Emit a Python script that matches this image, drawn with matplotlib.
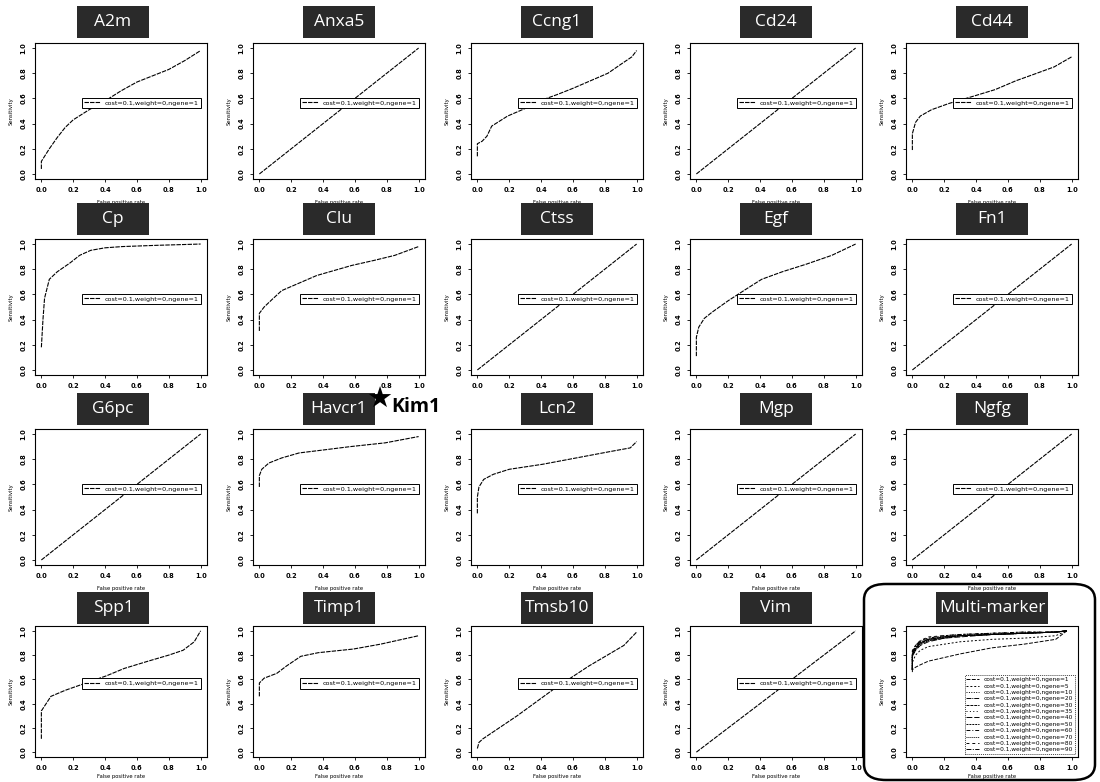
import matplotlib.pyplot as plt
from matplotlib.patches import Rectangle, FancyBboxPatch

# gene panels, row by row
genes = ["A2m", "Anxa5", "Ccng1", "Cd24", "Cd44",
         "Cp", "Clu", "Ctss", "Egf", "Fn1",
         "G6pc", "Havcr1", "Lcn2", "Mgp", "Ngfg",
         "Spp1", "Timp1", "Tmsb10", "Vim"]

diag = ([0.0, 1.0], [0.0, 1.0])

roc = {
    "A2m": ([0.0, 0.0, 0.05, 0.1, 0.15, 0.2, 0.3, 0.4, 0.5, 0.6, 0.7, 0.8, 0.9, 1.0],
            [0.04, 0.1, 0.2, 0.29, 0.37, 0.43, 0.51, 0.58, 0.66, 0.73, 0.78, 0.83, 0.9, 0.98]),
    "Anxa5": diag,
    "Ccng1": ([0.0, 0.0, 0.03, 0.06, 0.09, 0.19, 0.3, 0.39, 0.5, 0.6, 0.71, 0.82, 0.9, 0.97, 1.0],
              [0.14, 0.24, 0.26, 0.3, 0.38, 0.46, 0.52, 0.58, 0.63, 0.68, 0.74, 0.8, 0.87, 0.93, 0.98]),
    "Cd24": diag,
    "Cd44": ([0.0, 0.0, 0.02, 0.05, 0.12, 0.23, 0.39, 0.52, 0.65, 0.76, 0.89, 1.0],
             [0.19, 0.32, 0.41, 0.46, 0.51, 0.56, 0.62, 0.67, 0.74, 0.79, 0.85, 0.93]),
    "Cp": ([0.0, 0.01, 0.02, 0.05, 0.1, 0.18, 0.24, 0.31, 0.4, 0.51, 0.73, 1.0],
           [0.18, 0.4, 0.57, 0.72, 0.78, 0.85, 0.91, 0.95, 0.97, 0.98, 0.99, 1.0]),
    "Clu": ([0.0, 0.0, 0.03, 0.08, 0.14, 0.25, 0.36, 0.47, 0.58, 0.72, 0.85, 1.0],
            [0.31, 0.45, 0.5, 0.56, 0.63, 0.69, 0.75, 0.79, 0.83, 0.87, 0.91, 0.98]),
    "Ctss": diag,
    "Egf": ([0.0, 0.0, 0.015, 0.05, 0.1, 0.2, 0.31, 0.41, 0.54, 0.69, 0.85, 1.0],
            [0.11, 0.26, 0.34, 0.41, 0.46, 0.55, 0.64, 0.72, 0.78, 0.84, 0.91, 1.0]),
    "Fn1": diag,
    "G6pc": diag,
    "Havcr1": ([0.0, 0.0, 0.015, 0.06, 0.14, 0.25, 0.38, 0.57, 0.79, 1.0],
               [0.58, 0.67, 0.72, 0.77, 0.81, 0.85, 0.87, 0.9, 0.93, 0.98]),
    "Lcn2": ([0.0, 0.0, 0.01, 0.04, 0.1, 0.2, 0.41, 0.62, 0.83, 0.96, 1.0],
             [0.37, 0.5, 0.58, 0.64, 0.68, 0.72, 0.76, 0.81, 0.86, 0.89, 0.94]),
    "Mgp": diag,
    "Ngfg": diag,
    "Spp1": ([0.0, 0.0, 0.03, 0.06, 0.15, 0.28, 0.41, 0.52, 0.67, 0.8, 0.89, 0.96, 1.0],
             [0.11, 0.34, 0.4, 0.46, 0.51, 0.57, 0.63, 0.69, 0.75, 0.8, 0.84, 0.91, 1.0]),
    "Timp1": ([0.0, 0.0, 0.03, 0.11, 0.17, 0.26, 0.37, 0.59, 0.76, 1.0],
              [0.46, 0.57, 0.61, 0.65, 0.71, 0.79, 0.82, 0.85, 0.89, 0.96]),
    "Tmsb10": ([0.0, 0.01, 0.035, 0.25, 0.48, 0.7, 0.92, 1.0],
               [0.03, 0.08, 0.11, 0.3, 0.52, 0.71, 0.88, 0.99]),
    "Vim": diag,
}

# multi-marker panel
mm_ngene = [1, 5, 10, 20, 30, 35, 40, 50, 60, 70, 80, 90]
mm_fpr = [0.0, 0.0, 0.02, 0.05, 0.1, 0.2, 0.3, 0.5, 0.7, 0.9, 0.97]
mm_tpr = [
    [0.66, 0.68, 0.7, 0.72, 0.75, 0.78, 0.81, 0.86, 0.89, 0.93, 1.0],
    [0.68, 0.74, 0.8, 0.84, 0.87, 0.89, 0.91, 0.93, 0.94, 0.96, 1.0],
    [0.68, 0.78, 0.84, 0.89, 0.92, 0.95, 0.96, 0.97, 0.98, 0.99, 1.0],
    [0.68, 0.8, 0.86, 0.9, 0.93, 0.95, 0.96, 0.97, 0.98, 0.99, 1.0],
    [0.68, 0.8, 0.85, 0.9, 0.92, 0.94, 0.96, 0.97, 0.98, 0.99, 1.0],
    [0.68, 0.82, 0.87, 0.91, 0.94, 0.96, 0.97, 0.98, 0.98, 0.99, 1.0],
    [0.68, 0.79, 0.84, 0.88, 0.91, 0.94, 0.95, 0.97, 0.98, 0.99, 1.0],
    [0.68, 0.81, 0.86, 0.9, 0.93, 0.95, 0.96, 0.97, 0.98, 0.99, 1.0],
    [0.68, 0.83, 0.88, 0.92, 0.94, 0.96, 0.97, 0.98, 0.99, 0.99, 1.0],
    [0.68, 0.8, 0.85, 0.89, 0.92, 0.94, 0.96, 0.97, 0.98, 0.99, 1.0],
    [0.68, 0.84, 0.88, 0.92, 0.95, 0.96, 0.97, 0.98, 0.99, 0.99, 1.0],
    [0.68, 0.82, 0.87, 0.91, 0.93, 0.95, 0.96, 0.97, 0.98, 0.99, 1.0],
]
mm_dash = [(4, 1.5), (2, 2), (1, 1.5), (5, 1, 1, 1), (3, 1), (1, 2.5),
           (6, 2), (2, 1), (4, 2, 1, 2), (1, 1), (3, 3), (5, 1.5, 1, 1.5)]

W, H = 1100, 782
col_left = [35, 253, 471, 690, 906]
row_top = [43, 239, 429, 626]
row_h = [136, 136, 136, 131]
title_cy = [22, 219, 409, 608]
ax_w = 172

ticks = [0.0, 0.2, 0.4, 0.6, 0.8, 1.0]
tick_lbl = ["0.0", "0.2", "0.4", "0.6", "0.8", "1.0"]

fig = plt.figure(figsize=(11, 7.82), dpi=100)
plt.rcParams["font.family"] = ["DejaVu Sans"]


def make_axes(r, c):
    h = row_h[r]
    ax = fig.add_axes([col_left[c] / W, (H - row_top[r] - h) / H, ax_w / W, h / H])
    ax.set_xlim(-0.04, 1.04)
    ax.set_ylim(-0.04, 1.04)
    ax.set_xticks(ticks)
    ax.set_xticklabels(tick_lbl, fontsize=4.8, fontweight="bold")
    ax.set_yticks(ticks)
    ax.set_yticklabels(tick_lbl, fontsize=4.8, fontweight="bold", rotation=90, va="center")
    ax.tick_params(length=2, width=0.6, pad=4)
    for s in ax.spines.values():
        s.set_linestyle((0, (1, 1)))
        s.set_linewidth(0.8)
    ax.set_xlabel("False positive rate", fontsize=3.8, labelpad=2 if r == 3 else 5)
    ax.set_ylabel("Sensitivity", fontsize=3.8, labelpad=5)
    return ax


def title_box(r, c, text, w=72):
    cx = col_left[c] + ax_w / 2
    if c == 0:
        cx -= 8
    cy = title_cy[r]
    fig.add_artist(Rectangle(((cx - w / 2) / W, (H - cy - 16) / H), w / W, 32 / H,
                             transform=fig.transFigure, facecolor="#2a2a2a",
                             edgecolor="none", zorder=5))
    fig.text(cx / W, (H - cy) / H, text, color="white", fontsize=12.5,
             family="Open Sans", ha="center", va="center", zorder=6)


for i, g in enumerate(genes):
    r, c = divmod(i, 5)
    ax = make_axes(r, c)
    x, y = roc[g]
    ax.plot(x, y, color="black", linewidth=0.8, linestyle=(0, (4, 1)),
            label="cost=0.1,weight=0,ngene=1")
    leg = ax.legend(loc="center right", bbox_to_anchor=(0.985, 0.56), fontsize=4.6,
                    handlelength=2.4, borderpad=0.4, fancybox=False, framealpha=1)
    leg.get_frame().set_edgecolor("black")
    leg.get_frame().set_linewidth(0.7)
    title_box(r, c, g)

# multi-marker
ax = make_axes(3, 4)
for n, t, d in zip(mm_ngene, mm_tpr, mm_dash):
    ax.plot(mm_fpr, t, color="black", linewidth=0.7, linestyle=(0, d),
            label="cost=0.1,weight=0,ngene=%d" % n)
leg = ax.legend(loc="lower right", bbox_to_anchor=(1.0, 0.0), fontsize=4.2,
                handlelength=2.2, labelspacing=0.22, borderpad=0.3,
                fancybox=False, framealpha=1)
leg.get_frame().set_edgecolor("#444444")
leg.get_frame().set_linestyle((0, (1, 1)))
leg.get_frame().set_linewidth(0.7)
title_box(3, 4, "Multi-marker", w=112)

fig.add_artist(FancyBboxPatch((864 / W, 2 / H), 231 / W, 196 / H,
                              boxstyle="round,pad=0,rounding_size=0.02",
                              transform=fig.transFigure, facecolor="none",
                              edgecolor="black", linewidth=1.8, zorder=4))

# Kim1 annotation
fig.text(379 / W, (H - 400) / H, "\u2605", fontsize=21, ha="center", va="center",
         color="black", zorder=7)
fig.text(391 / W, (H - 407) / H, "Kim1", fontsize=14, fontweight="bold",
         family="Open Sans", ha="left", va="center", zorder=7)

fig.savefig("out.png", dpi=100, facecolor="white")
